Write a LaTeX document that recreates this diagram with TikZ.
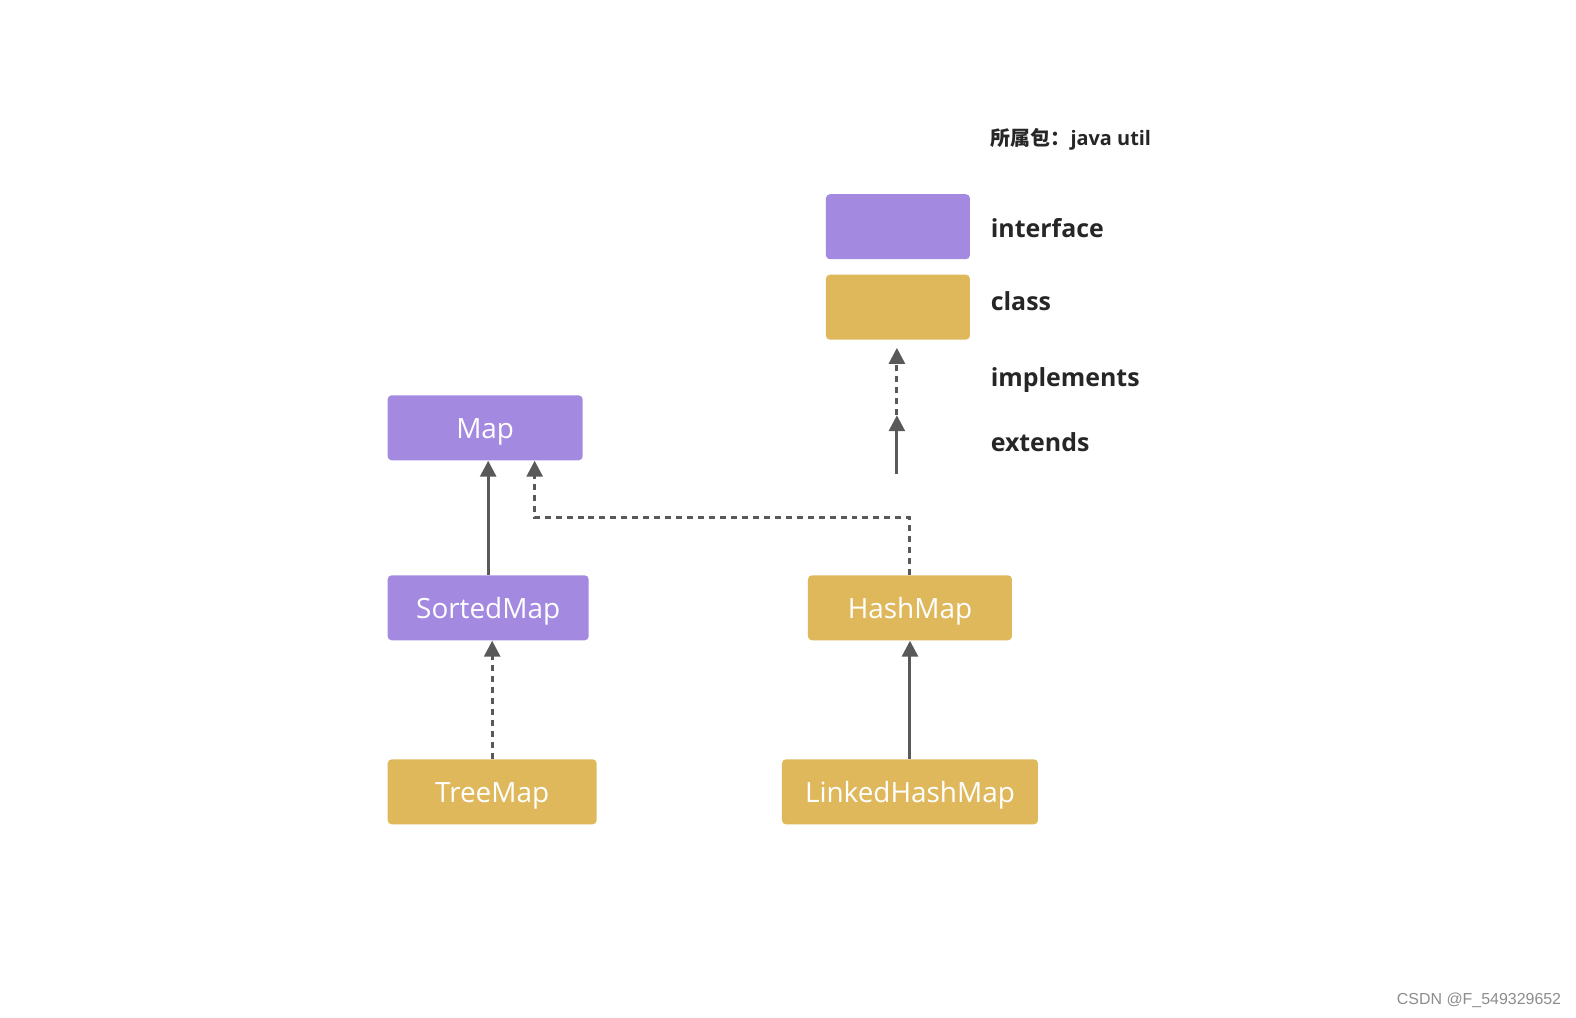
\documentclass[tikz,border=0pt]{standalone}
\usepackage{fontspec}
\setmainfont{Open Sans}
\newfontfamily\cjkfont{Noto Sans CJK SC}
\newfontfamily\wmfont{Liberation Sans}
\usetikzlibrary{arrows.meta,calc}
\definecolor{ifc}{HTML}{A389E0}
\definecolor{clc}{HTML}{DFB85C}
\definecolor{arc}{HTML}{595959}
\definecolor{txc}{HTML}{262626}
\tikzset{
  boxbase/.style={rounded corners=2pt, inner sep=0pt, text=white, font=\fontsize{14pt}{16pt}\selectfont, minimum height=32.5bp, text height=10.5pt, text depth=-1pt},
  ibox/.style={boxbase, fill=ifc},
  cbox/.style={boxbase, fill=clc},
  extarrow/.style={draw=arc, line width=1.5pt, -{Triangle[width=8pt,length=8pt]}},
  implarrow/.style={draw=arc, line width=1.5pt, dash pattern=on 3pt off 2.5pt, -{Triangle[width=8pt,length=8pt]}},
  legtext/.style={anchor=base west, text=txc, inner sep=0pt, font=\fontsize{12.5pt}{14pt}\selectfont\bfseries},
}
\begin{document}
\begin{tikzpicture}[x=0.50275bp,y=-0.50275bp]
\useasboundingbox (0,0) rectangle (1567.4,1012.4);
% legend
\node[legtext, font=\fontsize{10pt}{12pt}\selectfont\bfseries] (pkg) at (985,145) {{\cjkfont\bfseries 所属包：}java util};
\node[ibox, minimum width=72bp] (lif) at (893,225.5) {};
\node[cbox, minimum width=72bp] (lcl) at (893,305.5) {};
\node[legtext] (tif) at (985,236) {interface};
\node[legtext] (tcl) at (985,309) {class};
\node[legtext] (tim) at (985,384) {implements};
\node[legtext] (tex) at (985,449) {extends};
\coordinate (e0) at (892,471);
\coordinate (e1) at (892,413);
\coordinate (i1) at (892,346);
\draw[extarrow] (e0) -- (e1);
\draw[implarrow] (e1) -- (i1);
% nodes
\node[ibox, minimum width=97.5bp] (map) at (482.5,425.5) {Map};
\node[ibox, minimum width=100.5bp] (sm) at (485.5,604.5) {SortedMap};
\node[cbox, minimum width=102bp] (hm) at (905,604.5) {HashMap};
\node[cbox, minimum width=104.5bp] (tm) at (489.5,787.5) {TreeMap};
\node[cbox, minimum width=128bp] (lhm) at (905,787.5) {LinkedHashMap};
% connectors
\draw[extarrow] (sm.north) -- (sm.north |- map.south);
\draw[implarrow] (hm.north) -- (hm.north |- 0,515) -| ([xshift=24.75bp]map.south);
\draw[implarrow] (tm.north) -- (tm.north |- sm.south);
\draw[extarrow] (lhm.north) -- (hm.south);
% watermark
\node[anchor=east, inner sep=0pt, text=black!45, font=\wmfont\fontsize{8pt}{10pt}\selectfont] (wm) at (1553,995) {CSDN @F\_549329652};
\end{tikzpicture}
\end{document}
